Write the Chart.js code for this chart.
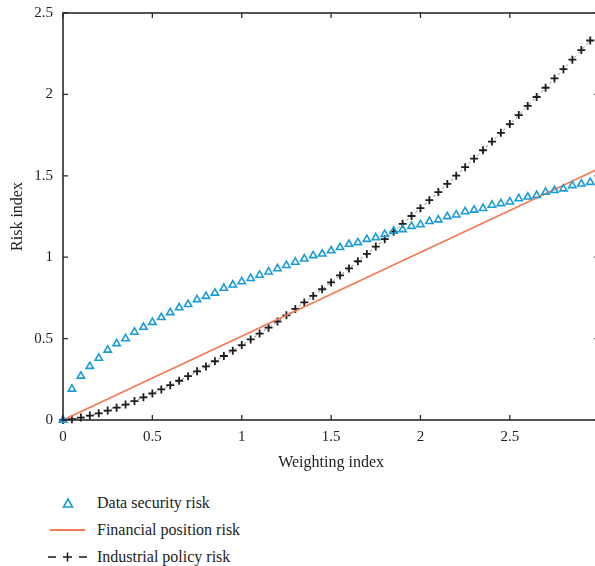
<!DOCTYPE html>
<html>
<head>
<meta charset="utf-8">
<script src="https://cdn.jsdelivr.net/npm/chart.js@4/dist/chart.umd.min.js"></script>
<style>
  html, body { margin: 0; padding: 0; background: #fff; overflow: hidden; }
  body { width: 595px; height: 566px; position: relative; font-family: "Liberation Serif", "DejaVu Serif", serif; color: #222; }
  #wrap { position: absolute; left: 0; top: 0; width: 605px; height: 480px; }
  .legend { position: absolute; left: 0; top: 490px; font-size: 16px; }
  .row { position: absolute; left: 0; height: 20px; width: 300px; }
  .row span.txt { position: absolute; left: 97px; top: 0; line-height: 20px; white-space: nowrap; }
  .row svg { position: absolute; left: 44px; top: 0; }
</style>
</head>
<body>
<div id="wrap"><canvas id="riskChart"></canvas></div>
<div class="legend">
  <div class="row" style="top:3px">
    <svg width="48" height="20"><polygon points="24,6 28.5,14 19.5,14" fill="none" stroke="#1a9bd7" stroke-width="1.6"/></svg>
    <span class="txt">Data security risk</span>
  </div>
  <div class="row" style="top:30px">
    <svg width="48" height="20"><line x1="6" y1="10" x2="41" y2="10" stroke="#f47a55" stroke-width="2"/></svg>
    <span class="txt">Financial position risk</span>
  </div>
  <div class="row" style="top:57px">
    <svg width="48" height="20">
      <line x1="4" y1="10" x2="12" y2="10" stroke="#222" stroke-width="1.6"/>
      <line x1="19" y1="10" x2="28" y2="10" stroke="#222" stroke-width="1.6"/>
      <line x1="23.5" y1="5.5" x2="23.5" y2="14.5" stroke="#222" stroke-width="1.6"/>
      <line x1="35" y1="10" x2="43" y2="10" stroke="#222" stroke-width="1.6"/>
    </svg>
    <span class="txt">Industrial policy risk</span>
  </div>
</div>
<script>
// weighting index sample points
const weights = [0, 0.05, 0.1, 0.15, 0.2, 0.25, 0.3, 0.35, 0.4, 0.45,
  0.5, 0.55, 0.6, 0.65, 0.7, 0.75, 0.8, 0.85, 0.9, 0.95,
  1, 1.05, 1.1, 1.15, 1.2, 1.25, 1.3, 1.35, 1.4, 1.45,
  1.5, 1.55, 1.6, 1.65, 1.7, 1.75, 1.8, 1.85, 1.9, 1.95,
  2, 2.05, 2.1, 2.15, 2.2, 2.25, 2.3, 2.35, 2.4, 2.45,
  2.5, 2.55, 2.6, 2.65, 2.7, 2.75, 2.8, 2.85, 2.9, 2.95];

const dataSecurity = [0, 0.19, 0.27, 0.33, 0.38, 0.43, 0.47, 0.50, 0.54, 0.57,
  0.60, 0.63, 0.66, 0.69, 0.71, 0.74, 0.76, 0.78, 0.81, 0.83,
  0.85, 0.87, 0.89, 0.91, 0.93, 0.95, 0.97, 0.99, 1.01, 1.02,
  1.04, 1.06, 1.08, 1.09, 1.11, 1.12, 1.14, 1.16, 1.17, 1.19,
  1.20, 1.22, 1.23, 1.25, 1.26, 1.28, 1.29, 1.30, 1.32, 1.33,
  1.34, 1.36, 1.37, 1.38, 1.40, 1.41, 1.42, 1.44, 1.45, 1.46];

const industrialPolicy = [0, 0.005, 0.015, 0.027, 0.041, 0.058, 0.076, 0.095, 0.116, 0.139,
  0.163, 0.188, 0.214, 0.241, 0.269, 0.299, 0.329, 0.361, 0.393, 0.426,
  0.46, 0.495, 0.531, 0.567, 0.605, 0.643, 0.682, 0.722, 0.762, 0.803,
  0.845, 0.888, 0.931, 0.975, 1.02, 1.065, 1.111, 1.157, 1.205, 1.253,
  1.301, 1.35, 1.40, 1.45, 1.501, 1.553, 1.605, 1.657, 1.71, 1.764,
  1.818, 1.873, 1.929, 1.984, 2.041, 2.098, 2.155, 2.213, 2.272, 2.331];

// financial position risk is a straight line
const financialX = [0, 3];
const financialY = [0, 1.545];

const xTicks = [0, 0.5, 1, 1.5, 2, 2.5];
const yTicks = [0, 0.5, 1, 1.5, 2, 2.5];

const toPoints = (xs, ys) => xs.map((x, i) => ({ x: x, y: ys[i] }));

const axisColor = "#2a2a2a";
const serif = "'Liberation Serif', 'DejaVu Serif', serif";

// box around plot plus inward tick marks
const frame = {
  id: "frame",
  afterDraw(chart) {
    const ctx = chart.ctx;
    const a = chart.chartArea;
    const xs = chart.scales.x, ys = chart.scales.y;
    ctx.save();
    ctx.strokeStyle = axisColor;
    ctx.lineWidth = 1.6;
    ctx.strokeRect(a.left, a.top, a.right - a.left, a.bottom - a.top);
    ctx.lineWidth = 1.3;
    ctx.beginPath();
    xTicks.forEach(v => {
      const px = xs.getPixelForValue(v);
      ctx.moveTo(px, a.bottom); ctx.lineTo(px, a.bottom - 5);
      ctx.moveTo(px, a.top); ctx.lineTo(px, a.top + 5);
    });
    yTicks.forEach(v => {
      const py = ys.getPixelForValue(v);
      ctx.moveTo(a.left, py); ctx.lineTo(a.left + 5, py);
      ctx.moveTo(a.right, py); ctx.lineTo(a.right - 5, py);
    });
    ctx.stroke();
    ctx.restore();
  }
};

new Chart(document.getElementById("riskChart"), {
  type: "scatter",
  data: {
    datasets: [
      {
        label: "Industrial policy risk",
        data: toPoints(weights, industrialPolicy),
        showLine: true,
        borderColor: "#8a8a8a",
        borderWidth: 1,
        borderDash: [3, 3],
        pointStyle: "cross",
        pointRadius: 4,
        pointBorderWidth: 1.8,
        pointBorderColor: "#1e1e1e",
        pointBackgroundColor: "#1e1e1e",
        order: 3
      },
      {
        label: "Financial position risk",
        data: toPoints(financialX, financialY),
        showLine: true,
        borderColor: "#f47a55",
        borderWidth: 1.8,
        pointRadius: 0,
        order: 2
      },
      {
        label: "Data security risk",
        data: toPoints(weights, dataSecurity),
        showLine: false,
        pointStyle: "triangle",
        pointRadius: 4.2,
        pointBorderWidth: 1.6,
        pointBorderColor: "#1a9bd7",
        pointBackgroundColor: "rgba(255,255,255,0)",
        order: 1
      }
    ]
  },
  options: {
    responsive: true,
    maintainAspectRatio: false,
    animation: false,
    clip: false,
    layout: { padding: { top: 13, right: 2, left: 0, bottom: 0 } },
    plugins: { legend: { display: false }, tooltip: { enabled: false } },
    scales: {
      x: {
        type: "linear",
        min: 0,
        max: 3,
        afterFit(scale) {
          scale.height = 60;
          scale.paddingLeft = 0;
          scale.paddingRight = 0;
        },
        afterBuildTicks(scale) { scale.ticks = xTicks.map(v => ({ value: v })); },
        grid: { display: false, drawTicks: false },
        border: { display: false },
        ticks: {
          padding: 8,
          color: "#222",
          font: { family: serif, size: 15 },
          callback: v => String(v)
        },
        title: {
          display: true,
          text: "Weighting index",
          color: "#222",
          font: { family: serif, size: 16 },
          padding: { top: 0, bottom: 8 }
        }
      },
      y: {
        type: "linear",
        min: 0,
        max: 2.5,
        afterFit(scale) {
          scale.width = 63;
          scale.paddingTop = 0;
          scale.paddingBottom = 0;
        },
        afterBuildTicks(scale) { scale.ticks = yTicks.map(v => ({ value: v })); },
        grid: { display: false, drawTicks: false },
        border: { display: false },
        ticks: {
          padding: 10,
          color: "#222",
          font: { family: serif, size: 15 },
          callback: v => String(v)
        },
        title: {
          display: true,
          text: "Risk index",
          color: "#222",
          font: { family: serif, size: 16 },
          padding: { top: 8, bottom: 0 }
        }
      }
    }
  },
  plugins: [frame]
});
</script>
</body>
</html>
